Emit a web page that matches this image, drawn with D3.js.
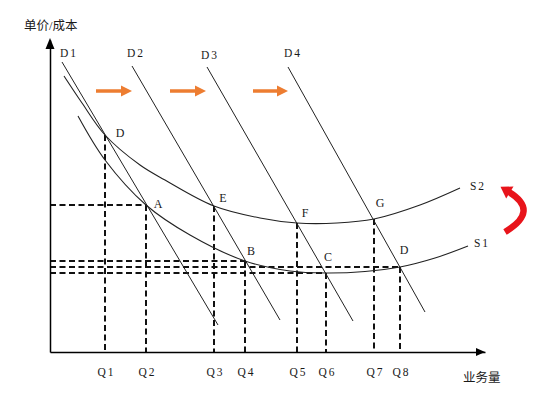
<!DOCTYPE html>
<html>
<head>
<meta charset="utf-8">
<script src="https://cdn.jsdelivr.net/npm/d3@7"></script>
<style>
  body { margin: 0; background: #fff; }
  text { font-family: "Liberation Serif", "Noto Sans CJK SC", serif; fill: #1a1a1a; }
</style>
</head>
<body>
<div id="chart"></div>
<script>
// quantity marks on the x axis
const qLabels = ["Q1", "Q2", "Q3", "Q4", "Q5", "Q6", "Q7", "Q8"];
const qValues = [55, 96, 164, 195, 247, 276, 324, 350];

// intersection points (same order as qValues)
const pointNames = ["D", "A", "E", "B", "F", "C", "G", "D"];
const pointPrices = [217, 147, 146, 91, 129, 79, 133, 85];
const hLineIdx = [1, 3, 5, 7]; // points that get a horizontal dashed line

// demand lines
const demandNames = ["D1", "D2", "D3", "D4"];
const demandStart = [[12, 290], [82, 286], [157, 285], [238, 285]];
const demandEnd = [[168, 27], [230, 32], [303, 31], [375, 40]];

// supply / cost curves [quantity, price]
const s1Values = [[28, 236], [55, 192], [96, 147], [140, 117], [195, 91], [240, 81],
  [276, 79], [315, 80.5], [350, 85], [385, 94], [418, 106]];
const s2Values = [[14, 276], [32, 249], [55, 217], [90, 187], [115, 172], [164, 146],
  [210, 134], [247, 129], [287, 129], [324, 133], [370, 147], [410, 164]];

// shift arrows [from, to] at price level
const shiftArrows = [[46, 82], [120, 156], [203, 238]];
const shiftLevel = 261;

const width = 550, height = 398;
const margin = {top: 40, right: 65, bottom: 46, left: 50};

const svg = d3.select("#chart").append("svg")
  .attr("width", width)
  .attr("height", height);

const x = d3.scaleLinear().domain([0, 435]).range([margin.left, width - margin.right]);
const y = d3.scaleLinear().domain([0, 312]).range([height - margin.bottom, margin.top]);

// dashed guide lines
const dash = svg.append("g")
  .attr("stroke", "#111")
  .attr("stroke-width", 2)
  .attr("stroke-dasharray", "6,3.5")
  .attr("fill", "none");

qValues.forEach((q, i) => {
  dash.append("line")
    .attr("x1", x(q)).attr("x2", x(q))
    .attr("y1", y(pointPrices[i])).attr("y2", y(0));
});
hLineIdx.forEach(i => {
  dash.append("line")
    .attr("x1", x(0)).attr("x2", x(qValues[i]))
    .attr("y1", y(pointPrices[i])).attr("y2", y(pointPrices[i]));
});

// demand lines
const dl = svg.append("g").attr("stroke", "#222").attr("stroke-width", 1);
demandNames.forEach((n, i) => {
  dl.append("line")
    .attr("x1", x(demandStart[i][0])).attr("y1", y(demandStart[i][1]))
    .attr("x2", x(demandEnd[i][0])).attr("y2", y(demandEnd[i][1]));
});
const dLabelOff = [[7, -5], [4, -9], [3, -8], [5, -10]];
svg.selectAll(".dlabel")
  .data(demandNames)
  .enter().append("text")
  .attr("class", "dlabel")
  .attr("x", (d, i) => x(demandStart[i][0]) + dLabelOff[i][0])
  .attr("y", (d, i) => y(demandStart[i][1]) + dLabelOff[i][1])
  .attr("text-anchor", "middle")
  .attr("font-size", 11.5)
  .attr("letter-spacing", 2)
  .text(d => d);

// curves
const line = d3.line()
  .x(d => x(d[0]))
  .y(d => y(d[1]))
  .curve(d3.curveCatmullRom.alpha(0.5));

[s1Values, s2Values].forEach(vals => {
  svg.append("path")
    .attr("d", line(vals))
    .attr("fill", "none")
    .attr("stroke", "#222")
    .attr("stroke-width", 1.1);
});
svg.append("text")
  .attr("x", x(s2Values[s2Values.length - 1][0]) + 18)
  .attr("y", y(s2Values[s2Values.length - 1][1]) + 2)
  .attr("text-anchor", "middle").attr("font-size", 11.5).attr("letter-spacing", 2)
  .text("S2");
svg.append("text")
  .attr("x", x(s1Values[s1Values.length - 1][0]) + 14)
  .attr("y", y(s1Values[s1Values.length - 1][1]) + 1)
  .attr("text-anchor", "middle").attr("font-size", 11.5).attr("letter-spacing", 2)
  .text("S1");

// point labels
const pLabelOff = [[15, 2], [12, 3], [9, -4], [6, -6], [8, -6], [2, -12], [6, -12], [4, -13]];
svg.selectAll(".plabel")
  .data(pointNames)
  .enter().append("text")
  .attr("class", "plabel")
  .attr("x", (d, i) => x(qValues[i]) + pLabelOff[i][0])
  .attr("y", (d, i) => y(pointPrices[i]) + pLabelOff[i][1])
  .attr("text-anchor", "middle")
  .attr("font-size", 12)
  .text(d => d);

// axes
const xAxis = d3.axisBottom(x)
  .tickValues(qValues)
  .tickSize(0)
  .tickPadding(16)
  .tickFormat((d, i) => qLabels[i]);

const gx = svg.append("g")
  .attr("transform", `translate(0,${y(0)})`)
  .call(xAxis);
gx.select(".domain").attr("stroke", "#000").attr("stroke-width", 1.5);
gx.selectAll("text")
  .attr("font-size", 11.5)
  .attr("letter-spacing", 2)
  .attr("dx", 1)
  .attr("fill", "#1a1a1a");

const yAxis = d3.axisLeft(y).tickValues([]).tickSizeOuter(0);
const gy = svg.append("g")
  .attr("transform", `translate(${x(0)},0)`)
  .call(yAxis);
gy.select(".domain").attr("stroke", "#000").attr("stroke-width", 1.5);

gx.attr("font-family", null);
gy.attr("font-family", null);

// axis arrowheads
const xe = x.range()[1], ye = y.range()[1];
svg.append("path")
  .attr("d", `M${xe},${y(0)} L${xe - 9},${y(0) - 4} L${xe - 9},${y(0) + 4} Z`)
  .attr("fill", "#000");
svg.append("path")
  .attr("d", `M${x(0)},${ye - 2} L${x(0) - 4.5},${ye + 9} L${x(0) + 4.5},${ye + 9} Z`)
  .attr("fill", "#000");

svg.append("text")
  .attr("x", 24).attr("y", 30)
  .attr("font-size", 12.5)
  .text("单价/成本");
svg.append("text")
  .attr("x", 463).attr("y", 382)
  .attr("font-size", 12.5)
  .text("业务量");

// orange shift arrows
const orange = "#ED7D31";
shiftArrows.forEach(a => {
  const x0 = x(a[0]), x1 = x(a[1]), yy = y(shiftLevel);
  svg.append("line")
    .attr("x1", x0).attr("x2", x1 - 10)
    .attr("y1", yy).attr("y2", yy)
    .attr("stroke", orange).attr("stroke-width", 3.5);
  svg.append("path")
    .attr("d", `M${x1},${yy} L${x1 - 11},${yy - 5.5} L${x1 - 11},${yy + 5.5} Z`)
    .attr("fill", orange);
});

// red curved arrow S1 -> S2
const rb = [x(455), y(120)], rc = [x(490), y(141)], re = [x(459), y(160)];
svg.append("path")
  .attr("d", `M${rb[0]},${rb[1]} Q${rc[0]},${rc[1]} ${re[0]},${re[1]}`)
  .attr("fill", "none")
  .attr("stroke", "#E8141B")
  .attr("stroke-width", 6.5);
{
  const dx = re[0] - rc[0], dy = re[1] - rc[1];
  const len = Math.hypot(dx, dy), ux = dx / len, uy = dy / len;
  const px = -uy, py = ux;
  const tip = [re[0] + ux * 10, re[1] + uy * 10];
  const b = [re[0] - ux * 1, re[1] - uy * 1];
  svg.append("path")
    .attr("d", `M${tip[0]},${tip[1]} L${b[0] + px * 7},${b[1] + py * 7} L${b[0] - px * 7},${b[1] - py * 7} Z`)
    .attr("fill", "#E8141B");
}
</script>
</body>
</html>
